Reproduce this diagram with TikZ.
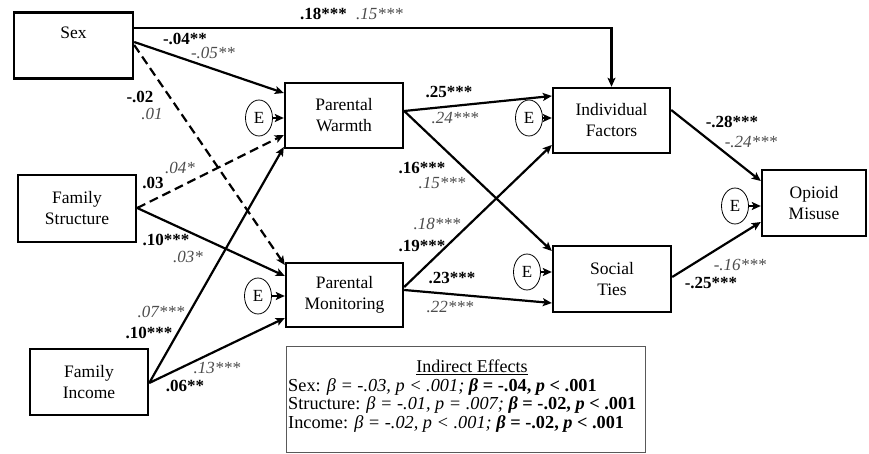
\documentclass[tikz,border=0pt]{standalone}
\usepackage{fontspec}
\setmainfont{Liberation Serif}
\usetikzlibrary{arrows.meta,shapes.geometric}
\definecolor{coefgray}{gray}{0.3}
\tikzset{
  varbox/.style={draw,line width=2.4pt,rectangle,align=center,inner sep=0pt,
    font=\fontsize{17.5}{21}\selectfont},
  errnode/.style={draw,line width=0.8pt,ellipse,minimum width=27pt,minimum height=36pt,inner sep=0pt,
    font=\fontsize{17}{20}\selectfont},
  path/.style={line width=2.2pt,-{Stealth[length=9pt,width=8pt,inset=2pt]}},
  dpath/.style={path,dash pattern=on 9pt off 5pt},
  coefb/.style={font=\fontsize{17}{20}\selectfont\bfseries,inner sep=0pt},
  coefi/.style={font=\fontsize{17}{20}\selectfont\itshape,text=coefgray,inner sep=0pt},
}
\begin{document}
\begin{tikzpicture}[x=1pt,y=-1pt]
\useasboundingbox (0,0) rectangle (869,454);
% variable boxes
\node[varbox,minimum width=119pt,minimum height=66pt,
  label={[anchor=north,yshift=-12pt,font=\fontsize{17.5}{21}\selectfont]north:Sex}] (sex) at (73.5,45.5) {};
\node[varbox,minimum width=118pt,minimum height=67pt] (struct) at (77,208.5) {Family\\Structure};
\node[varbox,minimum width=118pt,minimum height=66pt] (income) at (89,382) {Family\\Income};
\node[varbox,minimum width=118pt,minimum height=65pt] (warmth) at (344,115.5) {Parental\\Warmth};
\node[varbox,minimum width=117pt,minimum height=64pt] (monit) at (344.5,295) {Parental\\Monitoring};
\node[varbox,minimum width=117pt,minimum height=65pt] (indiv) at (611.5,120.5) {Individual\\Factors};
\node[varbox,minimum width=118pt,minimum height=66pt] (social) at (612,279) {Social\\Ties};
\node[varbox,minimum width=104pt,minimum height=66pt] (opioid) at (814,203) {Opioid\\Misuse};
% error terms
\node[errnode] (e1) at (259,118) {E};
\node[errnode] (e2) at (258,296) {E};
\node[errnode] (e3) at (529,118) {E};
\node[errnode] (e4) at (527,272) {E};
\node[errnode] (e5) at (735,206) {E};
% connectors
\draw[path] (sex.east |- 0,28) -| (indiv.north);
\draw[path] (sex.east |- 0,42) -- (warmth.west |- 0,93);
\draw[dpath] (sex.east |- 0,45) -- (monit.west |- 0,265);
\draw[dpath] (struct.east |- 0,208) -- (warmth.west |- 0,135);
\draw[path] (struct.east |- 0,208) -- (monit.west |- 0,276);
\draw[path] (income.east |- 0,383) -- (warmth.west |- 0,147);
\draw[path] (income.east |- 0,383) -- (monit.west |- 0,318);
\draw[path] (warmth.east |- 0,111) -- (indiv.west |- 0,96);
\draw[path] (warmth.east |- 0,111) -- (social.west |- 0,251);
\draw[path] (monit.east |- 0,287) -- (indiv.west |- 0,145);
\draw[path] (monit.east |- 0,290) -- (social.west |- 0,303);
\draw[path] (indiv.east |- 0,110) -- (opioid.west |- 0,181);
\draw[path] (social.east |- 0,277) -- (opioid.west |- 0,222);
\draw[path] (e1) -- (warmth.west |- e1);
\draw[path] (e2) -- (monit.west |- e2);
\draw[path] (e3) -- (indiv.west |- e3);
\draw[path] (e4) -- (social.west |- e4);
\draw[path] (e5) -- (opioid.west |- e5);
% coefficients
\node[coefb,anchor=west] (c1) at (300,14) {.18***};
\node[coefi,anchor=west] (c1i) at (356,14) {.15***};
\node[coefb] (c2) at (185,39) {-.04**};
\node[coefi] (c2i) at (213,53) {-.05**};
\node[coefb] (c3) at (140,97) {-.02};
\node[coefi] (c3i) at (152,114) {.01};
\node[coefb] (c4) at (153,183) {.03};
\node[coefi] (c4i) at (180,168) {.04*};
\node[coefb] (c5) at (166,240) {.10***};
\node[coefi] (c5i) at (188,257) {.03*};
\node[coefi] (c6i) at (161,312) {.07***};
\node[coefb] (c6) at (149,333) {.10***};
\node[coefi] (c7i) at (217,368) {.13***};
\node[coefb] (c7) at (185,386) {.06**};
\node[coefb] (c8) at (449,92) {.25***};
\node[coefi] (c8i) at (455,118) {.24***};
\node[coefb] (c9) at (422,168) {.16***};
\node[coefi] (c9i) at (442,183) {.15***};
\node[coefi] (c10i) at (437,224) {.18***};
\node[coefb] (c10) at (422,246) {.19***};
\node[coefb] (c11) at (452,278) {.23***};
\node[coefi] (c11i) at (450,307) {.22***};
\node[coefb] (c12) at (732,122) {-.28***};
\node[coefi] (c12i) at (751,142) {-.24***};
\node[coefi] (c13i) at (740,265) {-.16***};
\node[coefb] (c13) at (711,283) {-.25***};
% indirect effects box
\node[draw=black!65,line width=0.9pt,minimum width=359pt,minimum height=106pt,inner sep=0pt] (ind) at (465.5,399) {};
\node[font=\fontsize{18}{20}\selectfont,inner sep=0pt] (indt) at (472,367) {\underline{Indirect Effects}};
\node[font=\fontsize{18.3}{18.7}\selectfont,align=left,anchor=west,inner sep=0pt] (indl) at (288,405.5)
 {Sex: \textit{β = -.03, p < .001;} \textbf{\textit{β} = -.04, \textit{p} < .001}\\
  Structure: \textit{β = -.01, p = .007;} \textbf{\textit{β} = -.02, \textit{p} < .001}\\
  Income: \textit{β = -.02, p < .001;} \textbf{\textit{β} = -.02, \textit{p} < .001}};
\end{tikzpicture}
\end{document}
